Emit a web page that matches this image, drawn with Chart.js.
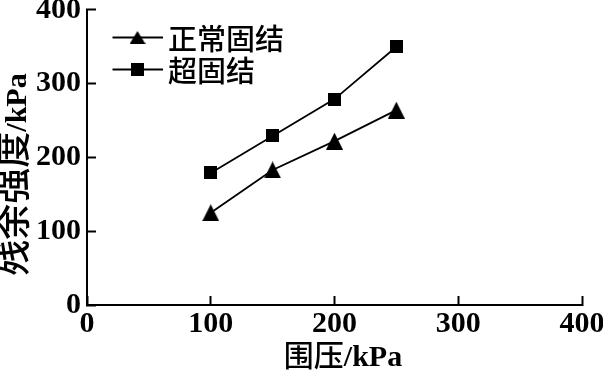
<!DOCTYPE html>
<html>
<head>
<meta charset="utf-8">
<script src="https://cdn.jsdelivr.net/npm/chart.js@4/dist/chart.umd.min.js"></script>
<style>
  html, body { margin: 0; padding: 0; background: #fff; }
  #wrap { width: 603px; height: 371px; }
</style>
</head>
<body>
<div id="wrap"><canvas id="c" width="603" height="371"></canvas></div>
<script>
// ---- data ----
const pressures = [100, 150, 200, 250];              // 围压 / kPa
const normalConsolidated = [125, 183, 222, 264];     // 正常固结
const overConsolidated = [179, 229, 279, 350];       // 超固结
const seriesLabels = ['正常固结', '超固结'];
const xTicks = [0, 100, 200, 300, 400];
const yTicks = [0, 100, 200, 300, 400];
const xTitleCJK = '围压', xTitleUnit = '/kPa';
const yTitleCJK = '残余强度', yTitleUnit = '/kPa';

// ---- marker images ----
function makeTri(w, h) {
  const c = document.createElement('canvas'); c.width = w; c.height = h;
  const g = c.getContext('2d'); g.fillStyle = '#000';
  g.beginPath(); g.moveTo(w / 2, 0); g.lineTo(w, h); g.lineTo(0, h); g.closePath(); g.fill();
  return c;
}
function makeSq(s) {
  const c = document.createElement('canvas'); c.width = s; c.height = s;
  const g = c.getContext('2d'); g.fillStyle = '#000'; g.fillRect(0, 0, s, s);
  return c;
}
const triImg = makeTri(17, 17);
const sqImg = makeSq(13);
const triLegend = makeTri(16, 13);
const sqLegend = makeSq(13);

const SERIF = '"Liberation Serif", "Times New Roman", serif';
const CJK = '"Noto Sans CJK SC", sans-serif';

function drawMixed(ctx, parts, cx, cy, rot) {
  ctx.save();
  ctx.translate(cx, cy);
  ctx.rotate(rot);
  let total = 0;
  const widths = parts.map(p => { ctx.font = p.font; const w = ctx.measureText(p.text).width; total += w; return w; });
  let x = -total / 2;
  ctx.fillStyle = '#000';
  ctx.textAlign = 'left';
  ctx.textBaseline = 'alphabetic';
  parts.forEach((p, i) => { ctx.font = p.font; ctx.fillText(p.text, x, 0); x += widths[i]; });
  ctx.restore();
}

const decor = {
  id: 'decor',
  afterDraw(chart) {
    const ctx = chart.ctx;
    // axis titles
    drawMixed(ctx, [
      { text: xTitleCJK, font: '500 30px ' + CJK },
      { text: xTitleUnit, font: 'bold 30px ' + SERIF }
    ], 343, 366, 0);
    drawMixed(ctx, [
      { text: yTitleCJK, font: '500 36px ' + CJK },
      { text: yTitleUnit, font: 'bold 30px ' + SERIF }
    ], 26, 174.5, -Math.PI / 2);
    // legend
    const imgs = [triLegend, sqLegend];
    const rowsY = [37.5, 69.5];
    chart.data.datasets.forEach((ds, i) => {
      const y = rowsY[i];
      ctx.save();
      ctx.strokeStyle = ds.borderColor;
      ctx.lineWidth = ds.borderWidth;
      ctx.beginPath(); ctx.moveTo(112.5, y); ctx.lineTo(163, y); ctx.stroke();
      const im = imgs[i];
      ctx.drawImage(im, 137.5 - im.width / 2, y - im.height / 2);
      ctx.fillStyle = '#000';
      ctx.font = '500 29px ' + CJK;
      ctx.textBaseline = 'middle';
      ctx.textAlign = 'left';
      ctx.fillText(ds.label, 168, y + 1);
      ctx.restore();
    });
  }
};

new Chart(document.getElementById('c'), {
  type: 'line',
  data: {
    datasets: [
      {
        label: seriesLabels[0],
        data: pressures.map((p, i) => ({ x: p, y: normalConsolidated[i] })),
        borderColor: '#000', backgroundColor: '#000', borderWidth: 1.8,
        pointStyle: triImg, pointRadius: 8, tension: 0
      },
      {
        label: seriesLabels[1],
        data: pressures.map((p, i) => ({ x: p, y: overConsolidated[i] })),
        borderColor: '#000', backgroundColor: '#000', borderWidth: 1.8,
        pointStyle: sqImg, pointRadius: 8, tension: 0
      }
    ]
  },
  options: {
    responsive: false,
    animation: false,
    devicePixelRatio: 1,
    layout: { padding: { left: 0, right: 21, top: 7, bottom: 0 } },
    plugins: { legend: { display: false }, tooltip: { enabled: false } },
    scales: {
      x: {
        type: 'linear', min: 0, max: 400,
        afterBuildTicks(s) { s.ticks = xTicks.map(v => ({ value: v })); },
        afterFit(s) { s.height = 66; s.paddingLeft = 0; s.paddingRight = 0; },
        grid: { drawOnChartArea: false, drawTicks: true, tickLength: -9, tickWidth: 2, tickColor: '#000' },
        border: { display: true, color: '#000', width: 2 },
        ticks: { color: '#000', font: { family: SERIF, size: 30, weight: 'bold', lineHeight: 1 }, padding: 13, maxRotation: 0, autoSkip: false }
      },
      y: {
        type: 'linear', min: 0, max: 400,
        afterBuildTicks(s) { s.ticks = yTicks.map(v => ({ value: v })); },
        afterFit(s) { s.width = 87; s.paddingTop = 0; s.paddingBottom = 0; },
        grid: { drawOnChartArea: false, drawTicks: true, tickLength: -9, tickWidth: 2, tickColor: '#000' },
        border: { display: true, color: '#000', width: 2 },
        ticks: { color: '#000', font: { family: SERIF, size: 30, weight: 'bold', lineHeight: 1 }, padding: 15, autoSkip: false }
      }
    }
  },
  plugins: [decor]
});
</script>
</body>
</html>
